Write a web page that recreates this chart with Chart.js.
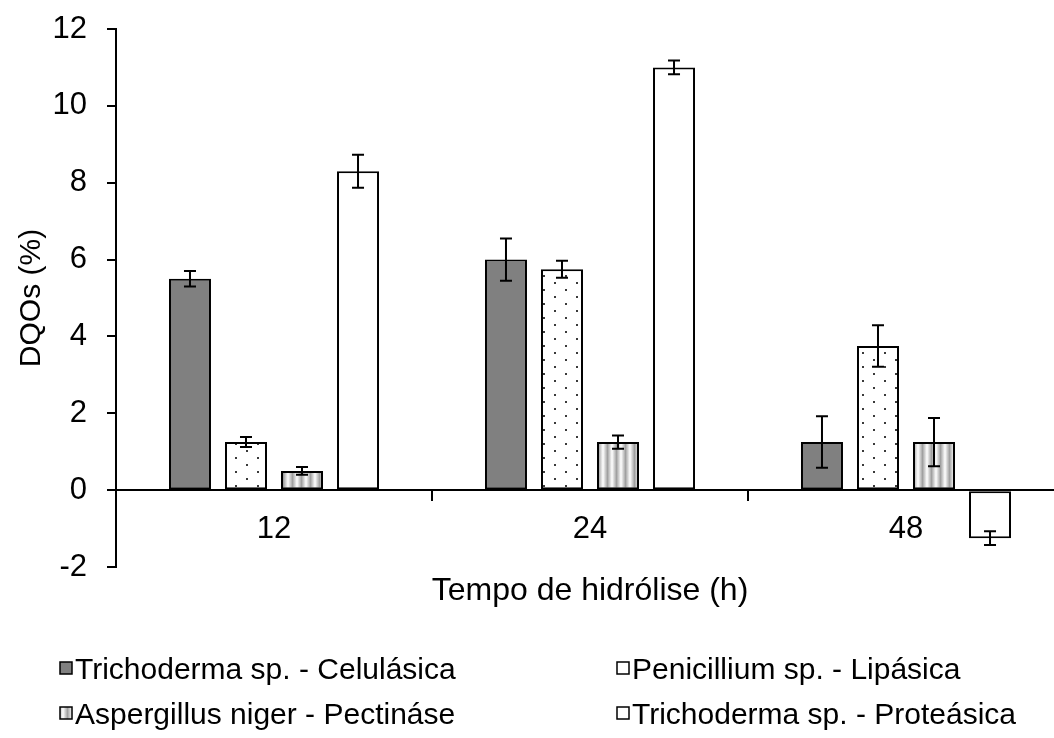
<!DOCTYPE html>
<html>
<head>
<meta charset="utf-8">
<script src="https://cdn.jsdelivr.net/npm/chart.js@4/dist/chart.umd.min.js"></script>
<style>
  html, body { margin: 0; padding: 0; background: #fff; }
  #wrap { width: 1054px; height: 738px; overflow: hidden; }
</style>
</head>
<body>
<div id="wrap"><canvas id="chart" width="1070" height="738"></canvas></div>
<script>
'use strict';

// Tempo de hidrólise (h)
const categories = ['12', '24', '48'];

// DQOs (%) per enzyme, with error bar half-widths
const celulasica = [5.5, 6.0, 1.25];
const celulasicaErr = [0.2, 0.55, 0.67];
const lipasica = [1.25, 5.75, 3.75];
const lipasicaErr = [0.13, 0.22, 0.54];
const pectinase = [0.5, 1.25, 1.25];
const pectinaseErr = [0.1, 0.17, 0.63];
const proteasica = [8.3, 11.0, -1.25];
const proteasicaErr = [0.43, 0.18, 0.18];

const seriesNames = [
    'Trichoderma sp. - Celulásica',
    'Penicillium sp. - Lipásica',
    'Aspergillus niger - Pectináse',
    'Trichoderma sp. - Proteásica'
];

const FONT = '"Liberation Sans", Arial, sans-serif';
Chart.defaults.color = '#000';
Chart.defaults.font.family = FONT;

// Fill patterns like the spreadsheet ones
function dotPattern() {
    let c = document.createElement('canvas');
    c.width = 22; c.height = 14;
    let g = c.getContext('2d');
    g.fillStyle = '#fff';
    g.fillRect(0, 0, 22, 14);
    g.fillStyle = '#3a3a3a';
    g.fillRect(4, 2, 2, 2);
    g.fillRect(15, 9, 2, 2);
    return g.createPattern(c, 'repeat');
}

function stripePattern() {
    let c = document.createElement('canvas');
    c.width = 9; c.height = 4;
    let g = c.getContext('2d');
    let grad = g.createLinearGradient(0, 0, 9, 0);
    grad.addColorStop(0, '#ffffff');
    grad.addColorStop(0.5, '#a0a0a0');
    grad.addColorStop(1, '#ffffff');
    g.fillStyle = grad;
    g.fillRect(0, 0, 9, 4);
    return g.createPattern(c, 'repeat');
}

const fills = ['#808080', dotPattern(), stripePattern(), '#ffffff'];

function makeSet(i, data, errors) {
    return {
        label: seriesNames[i],
        data: data,
        errors: errors,
        backgroundColor: fills[i],
        borderColor: '#000',
        borderWidth: 2,
        borderSkipped: false,
        categoryPercentage: 0.709,
        barPercentage: 0.75
    };
}

// Draws the error bars on top of each bar
const errorBars = {
    id: 'errorBars',
    afterDatasetsDraw(chart) {
        let ctx = chart.ctx;
        let y = chart.scales.y;
        ctx.save();
        ctx.strokeStyle = '#000';
        ctx.lineWidth = 2;
        chart.data.datasets.forEach((ds, i) => {
            chart.getDatasetMeta(i).data.forEach((bar, j) => {
                let v = ds.data[j], e = ds.errors[j];
                let top = y.getPixelForValue(v + e);
                let bot = y.getPixelForValue(v - e);
                ctx.beginPath();
                ctx.moveTo(bar.x, top); ctx.lineTo(bar.x, bot);
                ctx.moveTo(bar.x - 6, top); ctx.lineTo(bar.x + 6, top);
                ctx.moveTo(bar.x - 6, bot); ctx.lineTo(bar.x + 6, bot);
                ctx.stroke();
            });
        });
        ctx.restore();
    }
};

// X axis title and the two-column legend under the plot
const bottomText = {
    id: 'bottomText',
    afterDraw(chart) {
        let ctx = chart.ctx;
        let area = chart.chartArea;
        ctx.save();
        ctx.fillStyle = '#000';
        ctx.font = '32px ' + FONT;
        ctx.textAlign = 'center';
        ctx.textBaseline = 'alphabetic';
        ctx.fillText('Tempo de hidrólise (h)', (area.left + area.right) / 2, 600);

        let cols = [60, 617];
        let rows = [679, 724];
        ctx.font = '30px ' + FONT;
        ctx.textAlign = 'left';
        seriesNames.forEach((name, i) => {
            let x = cols[i % 2], base = rows[Math.floor(i / 2)];
            ctx.fillStyle = fills[i];
            ctx.fillRect(x, base - 17, 12, 12);
            ctx.strokeStyle = '#000';
            ctx.lineWidth = 1.5;
            ctx.strokeRect(x, base - 17, 12, 12);
            ctx.fillStyle = '#000';
            ctx.fillText(name, x + 15, base);
        });
        ctx.restore();
    }
};

new Chart(document.getElementById('chart'), {
    type: 'bar',
    data: {
        labels: categories,
        datasets: [
            makeSet(0, celulasica, celulasicaErr),
            makeSet(1, lipasica, lipasicaErr),
            makeSet(2, pectinase, pectinaseErr),
            makeSet(3, proteasica, proteasicaErr)
        ]
    },
    options: {
        responsive: false,
        animation: false,
        devicePixelRatio: 1,
        layout: { padding: { top: 29, right: 6, bottom: 171, left: 0 } },
        plugins: {
            legend: { display: false },
            tooltip: { enabled: false }
        },
        scales: {
            x: {
                position: { y: 0 },
                grid: { drawOnChartArea: false, offset: true, tickLength: 10, color: '#000', lineWidth: 2 },
                border: { color: '#000', width: 2 },
                ticks: { font: { size: 31 }, padding: 11, color: '#000' }
            },
            y: {
                min: -2,
                max: 12,
                // fixed axis width, and no extra room reserved for the top label
                afterFit: (s) => { s.width = 116; s.paddingTop = 0; s.paddingBottom = 0; },
                ticks: { stepSize: 2, font: { size: 31 }, padding: 20, color: '#000' },
                grid: { drawOnChartArea: false, tickLength: 9, color: '#000', lineWidth: 2 },
                border: { color: '#000', width: 2 },
                title: { display: true, text: 'DQOs (%)', font: { size: 30 }, padding: { top: 14, bottom: 0 } }
            }
        }
    },
    plugins: [errorBars, bottomText]
});
</script>
</body>
</html>
